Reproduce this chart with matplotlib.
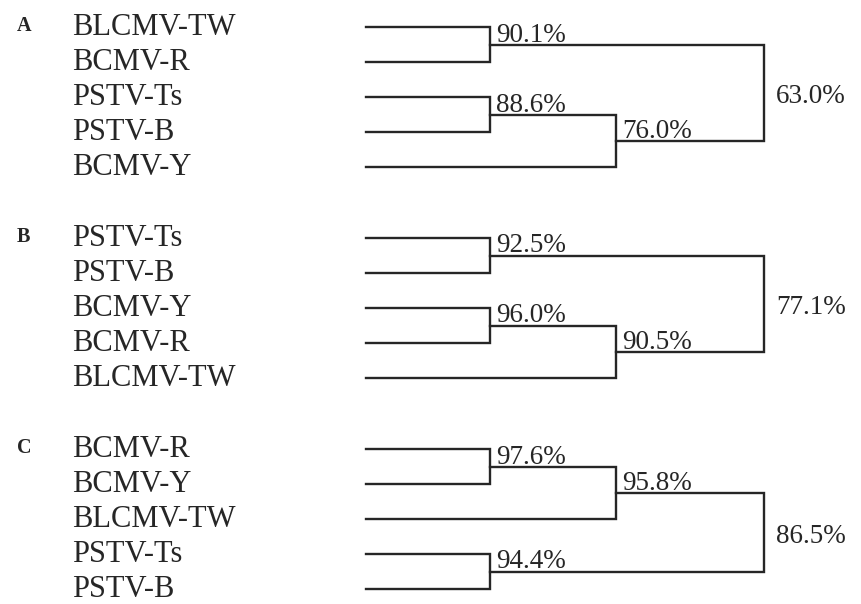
import matplotlib
matplotlib.use('Agg')
import matplotlib.pyplot as plt

# three trees, leaves listed top to bottom
panels = ['A', 'B', 'C']

leaves_a = ['BLCMV-TW', 'BCMV-R', 'PSTV-Ts', 'PSTV-B', 'BCMV-Y']
leaves_b = ['PSTV-Ts', 'PSTV-B', 'BCMV-Y', 'BCMV-R', 'BLCMV-TW']
leaves_c = ['BCMV-R', 'BCMV-Y', 'BLCMV-TW', 'PSTV-Ts', 'PSTV-B']

# merges: (child1, child2) - new clusters numbered after the leaves
merges_a = [(0, 1), (2, 3), (6, 4), (5, 7)]
merges_b = [(0, 1), (2, 3), (6, 4), (5, 7)]
merges_c = [(0, 1), (5, 2), (3, 4), (6, 7)]

# similarity at each merge (%)
sim_a = [90.1, 88.6, 76.0, 63.0]
sim_b = [92.5, 96.0, 90.5, 77.1]
sim_c = [97.6, 95.8, 94.4, 86.5]

trees = [(leaves_a, merges_a, sim_a), (leaves_b, merges_b, sim_b),
         (leaves_c, merges_c, sim_c)]

# layout (pixels)
W, H = 861, 604
top_y = [27, 238, 449]
step = 35.0
level_x = [366, 490, 616, 764]
name_x = 72
letter_x = 17

ink = '#262626'
serif = ['Liberation Serif', 'DejaVu Serif']

fig = plt.figure(figsize=(W / 100, H / 100), dpi=100)
ax = fig.add_axes([0, 0, 1, 1])
ax.set_xlim(0, W)
ax.set_ylim(H, 0)
ax.axis('off')

for p, (leaves, merges, sims), y0 in zip(panels, trees, top_y):
    n = len(leaves)
    pos = {}
    depth = {}
    for i, name in enumerate(leaves):
        y = y0 + i * step
        pos[i] = (level_x[0], y)
        depth[i] = 0
        ax.text(name_x, y + 8, name, fontsize=22, family=serif,
                color=ink, va='baseline', ha='left')
    ax.text(letter_x, y0 + 4, p, fontsize=14.5, family=serif,
            fontweight='bold', color=ink, va='baseline', ha='left')

    for k, ((c1, c2), s) in enumerate(zip(merges, sims)):
        node = n + k
        d = max(depth[c1], depth[c2]) + 1
        depth[node] = d
        x = level_x[d]
        (x1, y1), (x2, y2) = pos[c1], pos[c2]
        ax.plot([x1, x, x, x2], [y1, y1, y2, y2], color=ink, lw=1.7,
                solid_joinstyle='miter')
        ym = (y1 + y2) / 2
        pos[node] = (x, ym)
        lab = '%.1f%%' % s
        if k == len(merges) - 1:
            ax.text(x + 12, ym + 4, lab, fontsize=19.5, family=serif,
                    color=ink, va='center', ha='left')
        else:
            ax.text(x + 6, ym - 3, lab, fontsize=19.5, family=serif,
                    color=ink, va='baseline', ha='left')

fig.savefig('out.png', dpi=100, facecolor='white')
